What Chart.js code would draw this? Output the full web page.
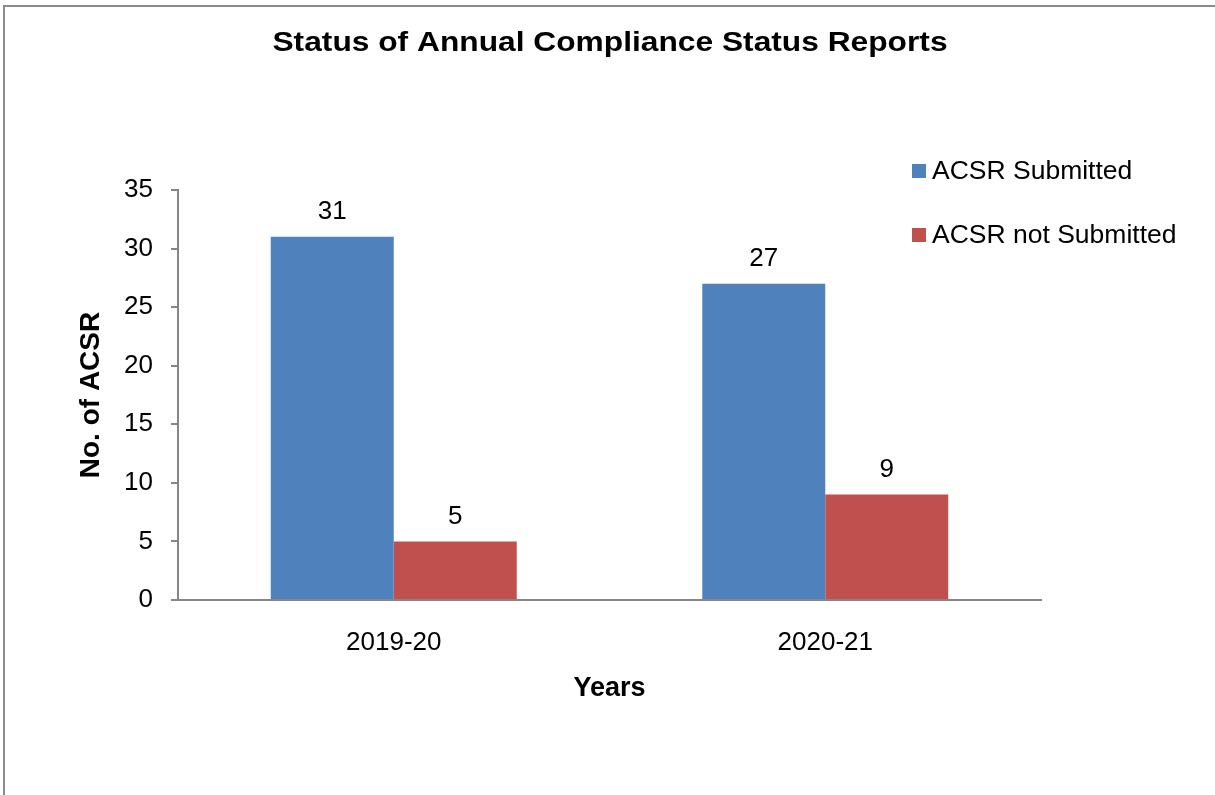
<!DOCTYPE html>
<html>
<head>
<meta charset="utf-8">
<script src="https://cdn.jsdelivr.net/npm/chart.js@4.4.0/dist/chart.umd.min.js"></script>
<style>
  html, body { margin: 0; padding: 0; background: #fff; }
  #wrap { position: relative; width: 1215px; height: 795px; overflow: hidden; }
  #frame { position: absolute; left: 3px; top: 5px; width: 1400px; height: 1000px; border: 2px solid #8c8c8c; box-sizing: border-box; }
  canvas { position: absolute; left: 0; top: 0; }
</style>
</head>
<body>
<div id="wrap">
  <div id="frame"></div>
  <canvas id="c" width="1215" height="795"></canvas>
</div>
<script>
const chartTitle = "Status of Annual Compliance Status Reports";
const categories = ["2019-20", "2020-21"];
const submitted = [31, 27];
const notSubmitted = [5, 9];
const seriesNames = ["ACSR Submitted", "ACSR not Submitted"];
const yTicks = [0, 5, 10, 15, 20, 25, 30, 35];

const FONT = "'Liberation Sans', Arial, sans-serif";

const wideTitle = {
  id: 'wideTitle',
  afterDraw(chart) {
    const ctx = chart.ctx;
    ctx.save();
    ctx.font = "bold 27px " + FONT;
    ctx.fillStyle = "#000";
    ctx.textAlign = "center";
    ctx.textBaseline = "middle";
    ctx.translate(610, 44);
    ctx.scale(1.175, 1);
    ctx.fillText(chartTitle, 0, 0);
    ctx.restore();
  }
};

const valueLabels = {
  id: 'valueLabels',
  afterDatasetsDraw(chart) {
    const ctx = chart.ctx;
    ctx.save();
    ctx.font = "26px " + FONT;
    ctx.fillStyle = "#000";
    ctx.textAlign = "center";
    ctx.textBaseline = "middle";
    chart.data.datasets.forEach((ds, i) => {
      chart.getDatasetMeta(i).data.forEach((bar, j) => {
        ctx.fillText(String(ds.data[j]), bar.x, bar.y - 25);
      });
    });
    ctx.restore();
  }
};

const sideLegend = {
  id: 'sideLegend',
  afterDraw(chart) {
    const ctx = chart.ctx;
    ctx.save();
    ctx.font = "26.5px " + FONT;
    ctx.textAlign = "left";
    ctx.textBaseline = "middle";
    const x0 = 912, y0 = 171, gap = 64;
    chart.data.datasets.forEach((ds, i) => {
      const cy = y0 + i * gap;
      ctx.fillStyle = ds.backgroundColor;
      ctx.fillRect(x0, cy - 7, 14, 14);
      ctx.fillStyle = "#000";
      ctx.fillText(ds.label, x0 + 20, cy + 1);
    });
    ctx.restore();
  }
};

new Chart(document.getElementById('c'), {
  type: 'bar',
  data: {
    labels: categories,
    datasets: [
      { label: seriesNames[0], data: submitted, backgroundColor: '#4F81BD' },
      { label: seriesNames[1], data: notSubmitted, backgroundColor: '#C0504D' }
    ]
  },
  options: {
    responsive: false,
    animation: false,
    devicePixelRatio: 1,
    layout: { padding: { left: 0, right: 174, top: 190, bottom: 0 } },
    datasets: { bar: { barPercentage: 1.0, categoryPercentage: 0.57 } },
    plugins: {
      legend: { display: false },
      tooltip: { enabled: false },
      title: { display: false }
    },
    scales: {
      x: {
        grid: { display: true, drawOnChartArea: false, drawTicks: false },
        border: { display: true, color: '#868686', width: 2 },
        ticks: { color: '#000', font: { family: FONT, size: 26 }, padding: 27 },
        title: { display: true, text: 'Years', color: '#000', font: { family: FONT, size: 27, weight: 'bold', lineHeight: 1.2 }, padding: { top: 0, bottom: 90 } },
        afterFit(scale) { scale.height = 195; }
      },
      y: {
        min: 0, max: 35,
        afterBuildTicks(scale) { scale.ticks = yTicks.map(v => ({ value: v })); },
        grid: { display: true, drawOnChartArea: false, drawTicks: true, tickLength: 7, color: '#868686', lineWidth: 2 },
        border: { display: true, color: '#868686', width: 2 },
        ticks: { color: '#000', font: { family: FONT, size: 26 }, padding: 18 },
        title: { display: true, text: 'No. of ACSR', color: '#000', font: { family: FONT, size: 28, weight: 'bold', lineHeight: 1.2 }, padding: { top: 74, bottom: 0 } },
        afterFit(scale) { scale.width = 178; }
      }
    }
  },
  plugins: [valueLabels, sideLegend, wideTitle]
});
</script>
</body>
</html>
